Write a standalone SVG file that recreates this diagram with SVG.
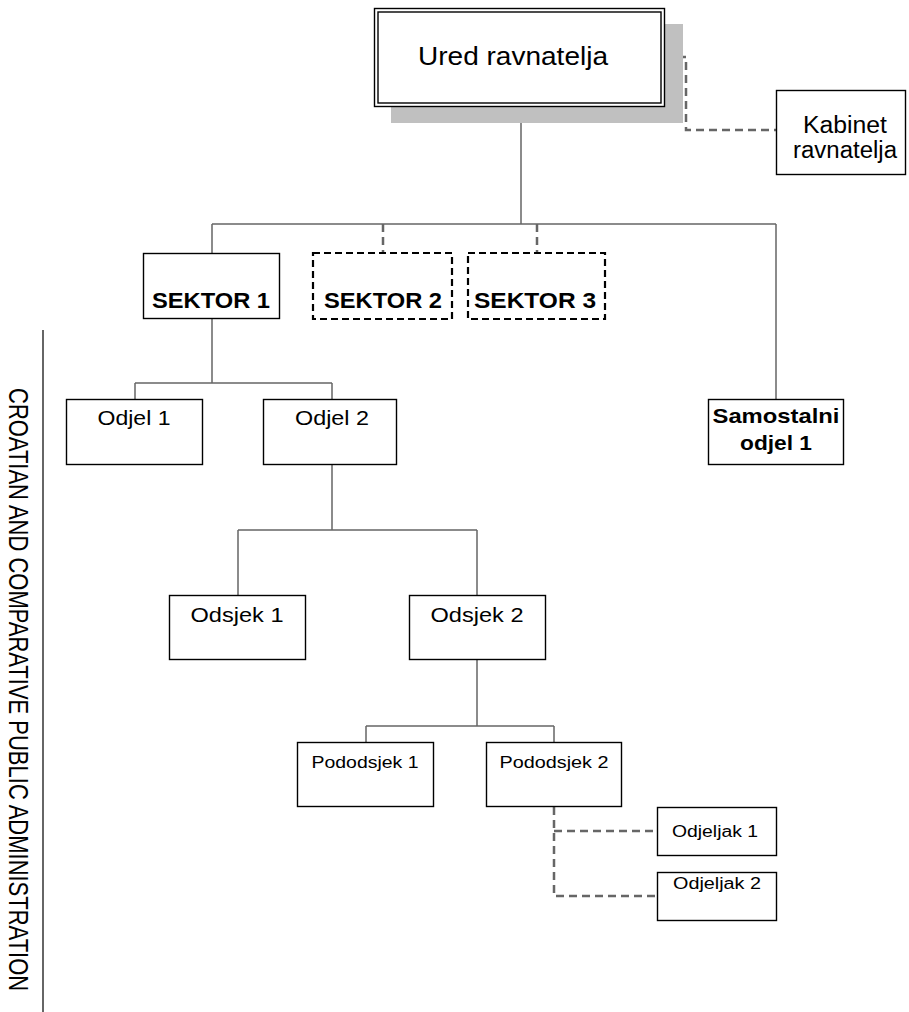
<svg xmlns="http://www.w3.org/2000/svg" width="909" height="1012" viewBox="0 0 909 1012">
<style>
.box{fill:#fff;stroke:#000;stroke-width:1.4}
.dbox{fill:#fff;stroke:#000;stroke-width:2.2;stroke-dasharray:7 4}
.ln{fill:none;stroke:#666;stroke-width:1.5}
.dl{fill:none;stroke:#666;stroke-width:2.5;stroke-dasharray:8 5}
.t{font-family:"Liberation Sans",Arial,sans-serif;fill:#000;text-anchor:middle}
.b{font-weight:bold}
</style>
<rect width="909" height="1012" fill="#fff"/>
<g id="connectors">
<path class="ln" d="M521 107V224M212 224H776M212 224V253M776 224V399"/>
<path class="dl" d="M383 224V253M537 224V253"/>
<path class="dl" d="M665 57H686V130H776"/>
<path class="ln" d="M212 319V383M135 383H332M135 383V399M332 383V399"/>
<path class="ln" d="M332 465V530M238 530H477M238 530V595M477 530V595"/>
<path class="ln" d="M477 660V726M366 726H554M366 726V742M554 726V742"/>
<path class="dl" d="M554 807V896H657M554 831H657"/>
</g>
<g id="ured">
<rect x="391" y="24" width="292" height="99" fill="#c0c0c0"/>
<rect class="box" x="374.5" y="8.5" width="290" height="98"/>
<rect x="378" y="12" width="283" height="91" fill="none" stroke="#000" stroke-width="1.4"/>
<text class="t" x="513" y="65" font-size="25" textLength="190" lengthAdjust="spacingAndGlyphs">Ured ravnatelja</text>
</g>
<g id="kabinet">
<rect class="box" x="776.5" y="90.5" width="129" height="84"/>
<text class="t" x="845" y="133" font-size="23" textLength="84" lengthAdjust="spacingAndGlyphs">Kabinet</text>
<text class="t" x="845" y="158" font-size="23" textLength="104" lengthAdjust="spacingAndGlyphs">ravnatelja</text>
</g>
<g id="sektor1">
<rect class="box" x="143.5" y="253.5" width="136" height="65"/>
<text class="t b" x="211" y="308" font-size="22" textLength="118" lengthAdjust="spacingAndGlyphs">SEKTOR 1</text>
</g>
<g id="sektor2">
<rect class="dbox" x="313" y="253" width="139" height="66"/>
<text class="t b" x="383" y="308" font-size="22" textLength="118" lengthAdjust="spacingAndGlyphs">SEKTOR 2</text>
</g>
<g id="sektor3">
<rect class="dbox" x="468" y="253" width="137" height="66"/>
<text class="t b" x="535" y="308" font-size="22" textLength="122" lengthAdjust="spacingAndGlyphs">SEKTOR 3</text>
</g>
<g id="samostalni">
<rect class="box" x="708.5" y="399.5" width="135" height="65"/>
<text class="t b" x="776" y="423" font-size="21" textLength="127" lengthAdjust="spacingAndGlyphs">Samostalni</text>
<text class="t b" x="776" y="450" font-size="21" textLength="72" lengthAdjust="spacingAndGlyphs">odjel 1</text>
</g>
<g id="odjel1">
<rect class="box" x="66.5" y="399.5" width="136" height="65"/>
<text class="t" x="134" y="425" font-size="21" textLength="73" lengthAdjust="spacingAndGlyphs">Odjel 1</text>
</g>
<g id="odjel2">
<rect class="box" x="263.5" y="399.5" width="133" height="65"/>
<text class="t" x="332" y="425" font-size="21" textLength="74" lengthAdjust="spacingAndGlyphs">Odjel 2</text>
</g>
<g id="odsjek1">
<rect class="box" x="169.5" y="595.5" width="136" height="64"/>
<text class="t" x="237" y="622" font-size="21" textLength="93" lengthAdjust="spacingAndGlyphs">Odsjek 1</text>
</g>
<g id="odsjek2">
<rect class="box" x="409.5" y="595.5" width="136" height="64"/>
<text class="t" x="477" y="622" font-size="21" textLength="93" lengthAdjust="spacingAndGlyphs">Odsjek 2</text>
</g>
<g id="pododsjek1">
<rect class="box" x="297.5" y="742.5" width="136" height="64"/>
<text class="t" x="365" y="768" font-size="17" textLength="107" lengthAdjust="spacingAndGlyphs">Pododsjek 1</text>
</g>
<g id="pododsjek2">
<rect class="box" x="486.5" y="742.5" width="135" height="64"/>
<text class="t" x="554" y="768" font-size="17" textLength="109" lengthAdjust="spacingAndGlyphs">Pododsjek 2</text>
</g>
<g id="odjeljak1">
<rect class="box" x="657.5" y="807.5" width="119" height="48"/>
<text class="t" x="715" y="837" font-size="16" textLength="86" lengthAdjust="spacingAndGlyphs">Odjeljak 1</text>
</g>
<g id="odjeljak2">
<rect class="box" x="657.5" y="872.5" width="119" height="48"/>
<text class="t" x="717" y="889" font-size="16" textLength="88" lengthAdjust="spacingAndGlyphs">Odjeljak 2</text>
</g>
<g id="side">
<line x1="43" y1="330" x2="43" y2="1012" stroke="#333" stroke-width="1.5"/>
<text transform="translate(9,388) rotate(90) scale(1,1.25)" font-family="Liberation Sans,Arial,sans-serif" font-size="22" fill="#000">CROATIAN AND COMPARATIVE PUBLIC ADMINISTRATION</text>
</g>
</svg>
